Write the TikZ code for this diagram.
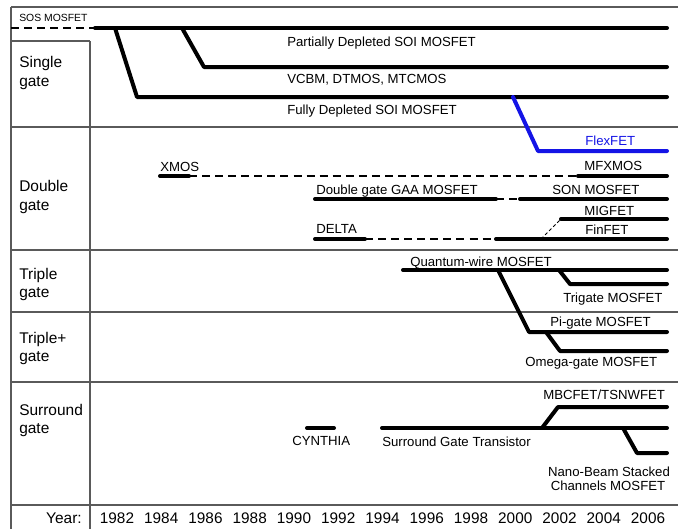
\documentclass[tikz,border=0pt]{standalone}
\usepackage{fontspec}
\setmainfont{Liberation Sans}
\definecolor{flexblue}{RGB}{20,20,230}
\definecolor{gridgray}{RGB}{90,90,90}
\tikzset{
  tline/.style={line width=3pt, line cap=round, line join=round},
  dline/.style={line width=1.1pt, dash pattern=on 6pt off 3.8pt},
  thindash/.style={line width=0.6pt, dash pattern=on 2.5pt off 1.8pt},
  gridline/.style={line width=0.8pt, draw=gridgray},
  lbl/.style={font=\fontsize{9.9}{11}\selectfont, inner sep=0pt, anchor=base west},
  rowlbl/.style={font=\fontsize{11.6}{14}\selectfont, inner sep=0pt, anchor=base west},
  yearlbl/.style={font=\fontsize{11.5}{14}\selectfont, inner sep=0pt, anchor=base},
}
\begin{document}
\begin{tikzpicture}[x=0.75pt,y=-0.75pt]
\useasboundingbox (0,0) rectangle (678,529);
% table
\draw[gridline] (11,7) -- (678,7);
\draw[gridline] (11,7) -- (11,529);
\draw[gridline] (11,41) -- (90,41);
\draw[gridline] (90,41) -- (90,529);
\foreach \yy in {127,250,312,382,505} \draw[gridline] (11,\yy) -- (678,\yy);
% row labels
\node[font=\fontsize{7.8}{9}\selectfont, inner sep=0pt, anchor=base west] (sos) at (19,21) {SOS MOSFET};
\node[rowlbl] (r1a) at (19,67) {Single};
\node[rowlbl] (r1b) at (19,86) {gate};
\node[rowlbl] (r2a) at (19,191) {Double};
\node[rowlbl] (r2b) at (19,210) {gate};
\node[rowlbl] (r3a) at (19,279) {Triple};
\node[rowlbl] (r3b) at (19,297) {gate};
\node[rowlbl] (r4a) at (19,343) {Triple+};
\node[rowlbl] (r4b) at (19,361) {gate};
\node[rowlbl] (r5a) at (19,415) {Surround};
\node[rowlbl] (r5b) at (19,433) {gate};
\node[rowlbl, anchor=base east] (year) at (82,523) {Year:};
\foreach \yr [count=\i from 0] in {1982,1984,1986,1988,1990,1992,1994,1996,1998,2000,2002,2004,2006}
  \node[yearlbl] (y\yr) at (117+44.25*\i,523) {\yr};
% single gate
\draw[dline] (11,28) -- (95,28);
\draw[tline] (95,28) -- (667,28);
\draw[tline] (115,28) -- (137,97) -- (667,97);
\draw[tline] (182,28) -- (204,67) -- (667,67);
\draw[tline, draw=flexblue] (513,97) -- (538,151) -- (667,151);
\node[lbl] (pd) at (287,46.5) {Partially Depleted SOI MOSFET};
\node[lbl] (vcbm) at (287,83.5) {VCBM, DTMOS, MTCMOS};
\node[lbl] (fd) at (287,114.5) {Fully Depleted SOI MOSFET};
% double gate
\node[lbl, text=flexblue] (flex) at (585,145.5) {FlexFET};
\node[lbl] (mfx) at (584,170.5) {MFXMOS};
\node[lbl] (xmos) at (160,171.5) {XMOS};
\node[lbl] (gaa) at (316,194.5) {Double gate GAA MOSFET};
\node[lbl] (son) at (552,194.5) {SON MOSFET};
\node[lbl] (mig) at (584,215.5) {MIGFET};
\node[lbl] (delta) at (316,233.5) {DELTA};
\node[lbl] (fin) at (585,234.5) {FinFET};
\draw[tline] (160,176) -- (189,176);
\draw[dline] (189,176) -- (578,176);
\draw[tline] (578,176) -- (667,176);
\draw[tline] (315,199) -- (496,199);
\draw[dline] (496,199) -- (520,199);
\draw[tline] (520,199) -- (667,199);
\draw[tline] (315,239) -- (365,239);
\draw[dline] (365,239) -- (496,239);
\draw[tline] (496,239) -- (667,239);
\draw[tline] (561,219) -- (667,219);
\draw[thindash] (541,239) -- (561,219);
% triple gate
\draw[tline] (403,270) -- (667,270);
\draw[tline] (559,270) -- (570,284) -- (667,284);
\draw[tline] (498,270) -- (529,332) -- (667,332);
\draw[tline] (546,332) -- (560,351) -- (667,351);
\node[lbl] (qw) at (410,266.5) {Quantum-wire MOSFET};
\node[lbl] (tri) at (563,302.5) {Trigate MOSFET};
\node[lbl] (pi) at (550,326.5) {Pi-gate MOSFET};
\node[lbl] (omega) at (525,366.5) {Omega-gate MOSFET};
% surround gate
\draw[tline] (307,428) -- (334,428);
\draw[tline] (382,428) -- (667,428);
\draw[tline] (542,428) -- (558,407) -- (667,407);
\draw[tline] (623,428) -- (637,453) -- (667,453);
\node[lbl] (mbc) at (543,399.5) {MBCFET/TSNWFET};
\node[lbl] (cyn) at (292,445.5) {CYNTHIA};
\node[lbl] (sgt) at (382,446.5) {Surround Gate Transistor};
\node[lbl, anchor=base] (nano1) at (609,476.5) {Nano-Beam Stacked};
\node[lbl, anchor=base] (nano2) at (608,490.5) {Channels MOSFET};
\end{tikzpicture}
\end{document}
